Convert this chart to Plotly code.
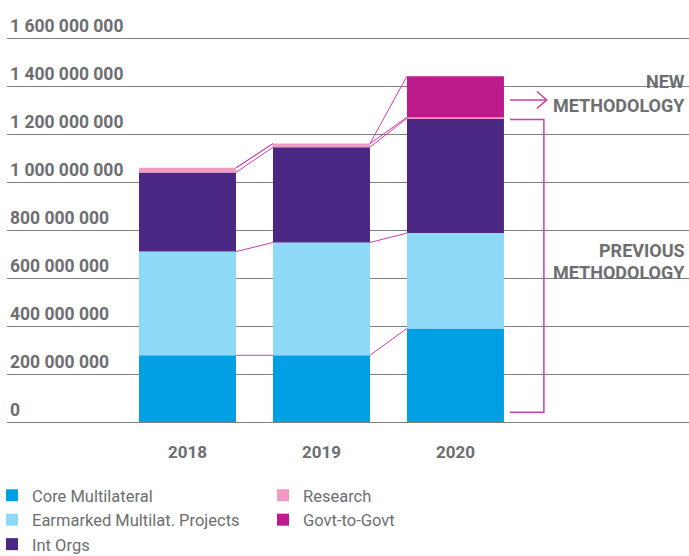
import plotly.graph_objects as go
import numpy as np

years = ["2018", "2019", "2020"]
core_multilateral = [278e6, 278e6, 390e6]
earmarked_projects = [432e6, 470e6, 397e6]
int_orgs = [330e6, 397e6, 479e6]
research = [19e6, 15e6, 4e6]
govt_to_govt = [0, 0, 171e6]

y_ticks = [0, 200e6, 400e6, 600e6, 800e6, 1000e6, 1200e6, 1400e6, 1600e6]
y_tick_labels = ["0", "200 000 000", "400 000 000", "600 000 000", "800 000 000",
                 "1 000 000 000", "1 200 000 000", "1 400 000 000", "1 600 000 000"]

series = [
    ("Core Multilateral", core_multilateral, "#009FE3", 1),
    ("Earmarked Multilat. Projects", earmarked_projects, "#8ED8F8", 3),
    ("Int Orgs", int_orgs, "#4B2884", 5),
    ("Research", research, "#F39AC2", 2),
    ("Govt-to-Govt", govt_to_govt, "#BD1A8D", 4),
]

GREY = "#6D6E71"
LINE = "#D03CA8"
BAR_W = 0.724
xpos = np.arange(len(years))

PLOT_TOP = 1
PLOT_BOTTOM = 422
PX_PER_UNIT = 48 / 200e6
Y_MAX = (PLOT_BOTTOM - PLOT_TOP) / PX_PER_UNIT
PLOT_H = PLOT_BOTTOM - PLOT_TOP

fig = go.Figure()
cum = np.zeros(len(years))
for name, vals, color, rank in series:
    vals = np.array(vals, dtype=float)
    fig.add_trace(go.Bar(x=xpos, y=vals, base=cum.copy(), name=name, width=BAR_W,
                         marker=dict(color=color, line=dict(width=0)),
                         legendrank=rank, hoverinfo="skip"))
    cum = cum + vals
    # connector lines between adjacent bars at the top of this level
    for i in range(len(years) - 1):
        fig.add_trace(go.Scatter(x=[xpos[i] + BAR_W / 2, xpos[i + 1] - BAR_W / 2],
                                 y=[cum[i], cum[i + 1]], mode="lines",
                                 line=dict(color=LINE, width=1),
                                 showlegend=False, hoverinfo="skip"))

# Bracket and arrow annotations (decorative)
shape_line = dict(color=LINE, width=1.5)
fig.add_shape(type="path", xref="x", yref="y",
              path="M 2.407,1260000000 L 2.660,1260000000 L 2.660,41000000 L 2.407,41000000",
              line=shape_line)
fig.add_shape(type="line", xref="x", yref="y", x0=2.407, x1=2.681,
              y0=1342e6, y1=1342e6, line=shape_line)
fig.add_shape(type="path", xref="x", yref="y",
              path="M 2.608,1377000000 L 2.681,1342000000 L 2.608,1306000000",
              line=shape_line)

ann_font = dict(family="Roboto", size=18, color=GREY, weight="bold")
for text, py in [("NEW", 82), ("METHODOLOGY", 105), ("PREVIOUS", 250), ("METHODOLOGY", 273)]:
    fig.add_annotation(xref="paper", yref="paper", x=1, xanchor="right", xshift=-2,
                       y=(PLOT_BOTTOM - py) / PLOT_H, yanchor="middle", text=text,
                       showarrow=False, font=ann_font)

fig.update_layout(
    width=689, height=556,
    margin=dict(l=7, r=0, t=PLOT_TOP, b=556 - PLOT_BOTTOM, autoexpand=False),
    plot_bgcolor="white", paper_bgcolor="white",
    barmode="overlay",
    showlegend=True,
    legend=dict(orientation="h", x=-15 / 682, xanchor="left",
                y=(PLOT_BOTTOM - 562) / PLOT_H, yanchor="bottom",
                entrywidth=226, font=dict(family="Roboto", size=16.5, color=GREY),
                traceorder="normal", tracegroupgap=0, itemclick=False),
    xaxis=dict(range=[-1.347, 3.743], tickvals=list(xpos), ticktext=years,
               showgrid=False, zeroline=False, showline=False, ticks="",
               ticklabelstandoff=18, automargin=False,
               tickfont=dict(family="Roboto", size=17, color=GREY, weight="bold")),
    yaxis=dict(range=[0, Y_MAX], tickvals=y_ticks, ticktext=y_tick_labels,
               showgrid=True, gridcolor="#7F7F7F", gridwidth=1,
               zeroline=True, zerolinecolor="#7F7F7F", zerolinewidth=1,
               showline=False, ticks="", ticklabelposition="inside top", automargin=False,
               tickfont=dict(family="Roboto", size=17.5, color=GREY, weight="bold")),
)

fig.write_html("out.html", config={"displayModeBar": False},
               post_script="document.body.style.margin='0';")
